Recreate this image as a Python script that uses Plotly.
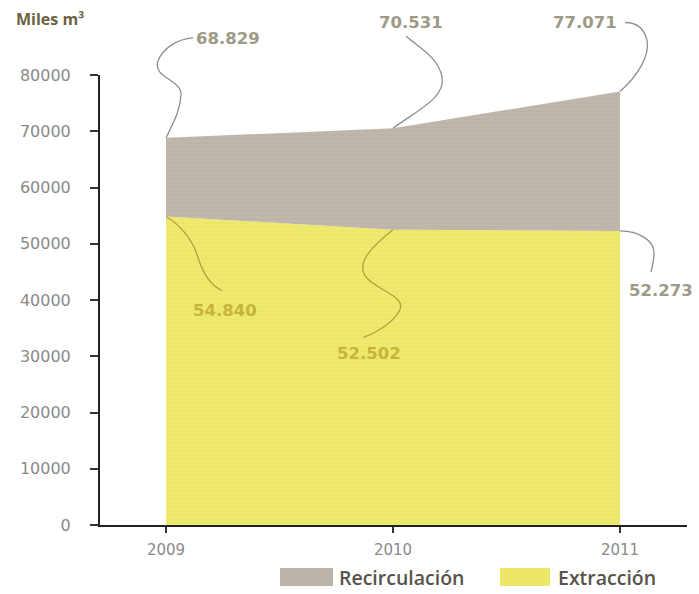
import plotly.graph_objects as go

# --- data -------------------------------------------------------------
years = [2009, 2010, 2011]
extraccion = [54840, 52502, 52273]          # Miles m3
total = [68829, 70531, 77071]               # extracción + recirculación
recirculacion = [t - e for t, e in zip(total, extraccion)]
y_ticks = [0, 10000, 20000, 30000, 40000, 50000, 60000, 70000, 80000]
x_ticks = [2009, 2010, 2011]
series_names = ["Recirculación", "Extracción"]
axis_title = "Miles m³"

# --- geometry / style ---------------------------------------------------
W, H = 699, 594
M_L, M_R, M_T, M_B = 100, 12, 75, 69
PLOT_W = W - M_L - M_R
PLOT_H = H - M_T - M_B
X_RANGE = [2008.709, 2011.295]
Y_RANGE = [0, 80000]

YELLOW = "#ece767"
GRAY = "#bcb3ab"
LABEL_GRAY = "#9d9a86"
LABEL_YELLOW = "#c6b43a"
LEADER_GRAY = "#8e8e8e"
LEADER_YELLOW = "#b3a23c"
TICK_GRAY = "#8a8a8a"


def fmt(v):
    return f"{v:,}".replace(",", ".")


def paper_x(px):
    return (px - M_L) / PLOT_W


def paper_y(py):
    return (H - M_B - py) / PLOT_H


def data_to_px(x, y):
    """Screen pixel position of a data point (plot area is fixed)."""
    px = M_L + (x - X_RANGE[0]) / (X_RANGE[1] - X_RANGE[0]) * PLOT_W
    py = H - M_B - (y - Y_RANGE[0]) / (Y_RANGE[1] - Y_RANGE[0]) * PLOT_H
    return px, py


def leader_path(x, y, offsets):
    """Cubic curve in paper units starting at data point (x, y);
    control points are given as pixel offsets from that point."""
    ax, ay = data_to_px(x, y)
    pts = [(paper_x(ax + dx), paper_y(ay + dy)) for dx, dy in offsets]
    d = f"M {paper_x(ax):.5f},{paper_y(ay):.5f}"
    for i in range(0, len(pts), 3):
        d += " C " + " ".join(f"{px:.5f},{py:.5f}" for px, py in pts[i:i + 3])
    return d


fig = go.Figure()

fig.add_trace(go.Scatter(
    x=years, y=extraccion, name=series_names[1], stackgroup="agua",
    mode="none", fillcolor=YELLOW,
    fillpattern=dict(shape="-", fgcolor="rgba(255,255,255,0.35)",
                     bgcolor=YELLOW, size=4, solidity=0.25),
    showlegend=False,
))
fig.add_trace(go.Scatter(
    x=years, y=recirculacion, name=series_names[0], stackgroup="agua",
    mode="none", fillcolor=GRAY,
    fillpattern=dict(shape="-", fgcolor="rgba(225,215,170,0.45)",
                     bgcolor=GRAY, size=4, solidity=0.25),
    showlegend=False,
))

# value labels with curved leader lines
labels = [
    # (x, y, text, color, label offset px, leader color, leader offsets px)
    (years[0], total[0], fmt(total[0]), LABEL_GRAY, (62, -99), LEADER_GRAY,
     [(6, -13), (14, -26), (15, -43), (16, -58), (-14, -60), (-8, -77),
      (-3, -90), (12, -99), (27, -100)]),
    (years[1], total[1], fmt(total[1]), LABEL_GRAY, (18, -106), LEADER_GRAY,
     [(21, -16), (53, -30), (49, -51), (46, -70), (26, -81), (13, -92)]),
    (years[2], total[2], fmt(total[2]), LABEL_GRAY, (-35, -69), LEADER_GRAY,
     [(18, -16), (30, -36), (27, -51), (24, -64), (15, -69), (5, -69)]),
    (years[0], extraccion[0], fmt(extraccion[0]), LABEL_YELLOW, (59, 94), LEADER_YELLOW,
     [(14, 8), (26, 23), (31, 38), (36, 55), (44, 69), (56, 74)]),
    (years[1], extraccion[1], fmt(extraccion[1]), LABEL_YELLOW, (-24, 124), LEADER_YELLOW,
     [(-19, 15), (-37, 32), (-28, 46), (-20, 60), (16, 66), (6, 82),
      (-2, 95), (-19, 104), (-30, 108)]),
    (years[2], extraccion[2], fmt(extraccion[2]), LABEL_GRAY, (41, 60), LEADER_GRAY,
     [(18, 0), (34, 9), (34, 22), (34, 30), (32, 36), (31, 41)]),
]

shapes = []
annotations = []
for x, y, text, color, (lx, ly), lcolor, offs in labels:
    shapes.append(dict(type="path", xref="paper", yref="paper", layer="above",
                       path=leader_path(x, y, offs),
                       line=dict(color=lcolor, width=1.3)))
    annotations.append(dict(x=x, y=y, xref="x", yref="y", text=text,
                            showarrow=False, xshift=lx, yshift=-ly,
                            xanchor="center", yanchor="middle",
                            font=dict(family="DejaVu Sans", size=16.5,
                                      color=color, weight="bold")))

# unit title
annotations.append(dict(x=paper_x(14), y=paper_y(19), xref="paper", yref="paper",
                        text=f"<b>{axis_title}</b>", showarrow=False,
                        xanchor="left", yanchor="middle",
                        font=dict(family="Open Sans", size=16, color="#6b6242")))

# legend drawn as swatches + text
legend_items = [
    (series_names[0], GRAY, 280, 333, 337),
    (series_names[1], YELLOW, 500, 550, 556),
]
for name, col, sx0, sx1, tx in legend_items:
    shapes.append(dict(type="rect", xref="paper", yref="paper",
                       x0=paper_x(sx0), x1=paper_x(sx1),
                       y0=paper_y(586), y1=paper_y(568),
                       fillcolor=col, line=dict(width=0), layer="above"))
    annotations.append(dict(x=paper_x(tx), y=paper_y(577), xref="paper", yref="paper",
                            text=name, showarrow=False, xanchor="left",
                            yanchor="middle",
                            font=dict(family="Open Sans", size=19.5,
                                      color="#57534a", weight=600)))

fig.update_layout(
    width=W, height=H,
    margin=dict(l=M_L, r=M_R, t=M_T, b=M_B, pad=0),
    paper_bgcolor="white", plot_bgcolor="white",
    showlegend=False,
    shapes=shapes, annotations=annotations,
    xaxis=dict(range=X_RANGE, tickvals=x_ticks, ticktext=[str(v) for v in x_ticks],
               showgrid=False, zeroline=False, showline=True,
               linecolor="#222222", linewidth=2,
               ticks="outside", ticklen=6, tickwidth=1.5, tickcolor="#333333",
               ticklabelstandoff=4,
               tickfont=dict(family="DejaVu Sans", size=15, color=TICK_GRAY)),
    yaxis=dict(range=Y_RANGE, tickvals=y_ticks, tickformat="d",
               showgrid=False, zeroline=False, showline=True,
               linecolor="#222222", linewidth=2,
               ticks="outside", ticklen=8, tickwidth=2, tickcolor="#333333",
               ticklabelstandoff=16,
               tickfont=dict(family="DejaVu Sans", size=16, color=TICK_GRAY)),
)

fig.write_html("out.html")
